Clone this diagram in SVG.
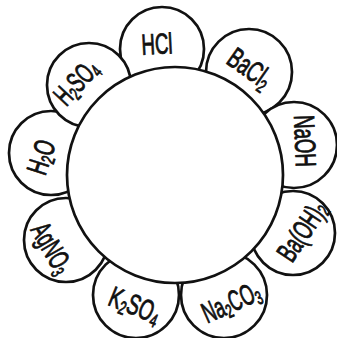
<svg xmlns="http://www.w3.org/2000/svg" width="337" height="338" viewBox="0 0 337 338">
<style>
  .c { fill: #fff; stroke: #111; stroke-width: 2.7; }
  .t { font-family: "Liberation Sans", Arial, sans-serif; font-size: 29px; fill: #111; text-anchor: middle; stroke: #111; stroke-width: 0.9; }
  .s { font-size: 19px; }
</style>
<rect width="337" height="338" fill="#fff"/>
<g id="connectors"></g>
<g id="n-hcl"><circle class="c" cx="162" cy="49" r="42"/>
  <g transform="translate(157,44) rotate(-3)"><text class="t" transform="scale(0.64,1)" y="10">HCl</text></g></g>
<g id="n-bacl2"><circle class="c" cx="249" cy="72" r="43"/>
  <g transform="translate(250,68) rotate(35)"><text class="t" transform="scale(0.64,1)" y="10">BaCl<tspan class="s" dy="5">2</tspan></text></g></g>
<g id="n-naoh"><circle class="c" cx="294" cy="145" r="43"/>
  <g transform="translate(305,141) rotate(88)"><text class="t" transform="scale(0.64,1)" y="10">NaOH</text></g></g>
<g id="n-baoh2"><circle class="c" cx="293" cy="233" r="42"/>
  <g transform="translate(302,231) rotate(-56)"><text class="t" transform="scale(0.6,1)" y="10">Ba(OH)<tspan class="s" dy="3">2</tspan></text></g></g>
<g id="n-na2co3"><circle class="c" cx="224" cy="295" r="43"/>
  <g transform="translate(231,302) rotate(-24)"><text class="t" transform="scale(0.6,1)" y="10">Na<tspan class="s" dy="4">2</tspan><tspan dy="-4">CO</tspan><tspan class="s" dy="4">3</tspan></text></g></g>
<g id="n-k2so4"><circle class="c" cx="136" cy="295" r="43"/>
  <g transform="translate(135,305) rotate(22)"><text class="t" transform="scale(0.64,1)" y="10">K<tspan class="s" dy="4">2</tspan><tspan dy="-4">SO</tspan><tspan class="s" dy="4">4</tspan></text></g></g>
<g id="n-agno3"><circle class="c" cx="66" cy="240" r="42"/>
  <g transform="translate(52,248) rotate(60)"><text class="t" transform="scale(0.6,1)" y="10">AgNO<tspan class="s" dy="4">3</tspan></text></g></g>
<g id="n-h2o"><circle class="c" cx="51" cy="153" r="42"/>
  <g transform="translate(41,157) rotate(-72)"><text class="t" transform="scale(0.64,1)" y="10">H<tspan class="s" dy="4">2</tspan><tspan dy="-4">O</tspan></text></g></g>
<g id="n-h2so4"><circle class="c" cx="89" cy="85" r="42"/>
  <g transform="translate(76,82) rotate(-47)"><text class="t" transform="scale(0.6,1)" y="10">H<tspan class="s" dy="4">2</tspan><tspan dy="-4">SO</tspan><tspan class="s" dy="4">4</tspan></text></g></g>
<g id="n-center"><circle class="c" cx="175" cy="175" r="108"/></g>
</svg>
